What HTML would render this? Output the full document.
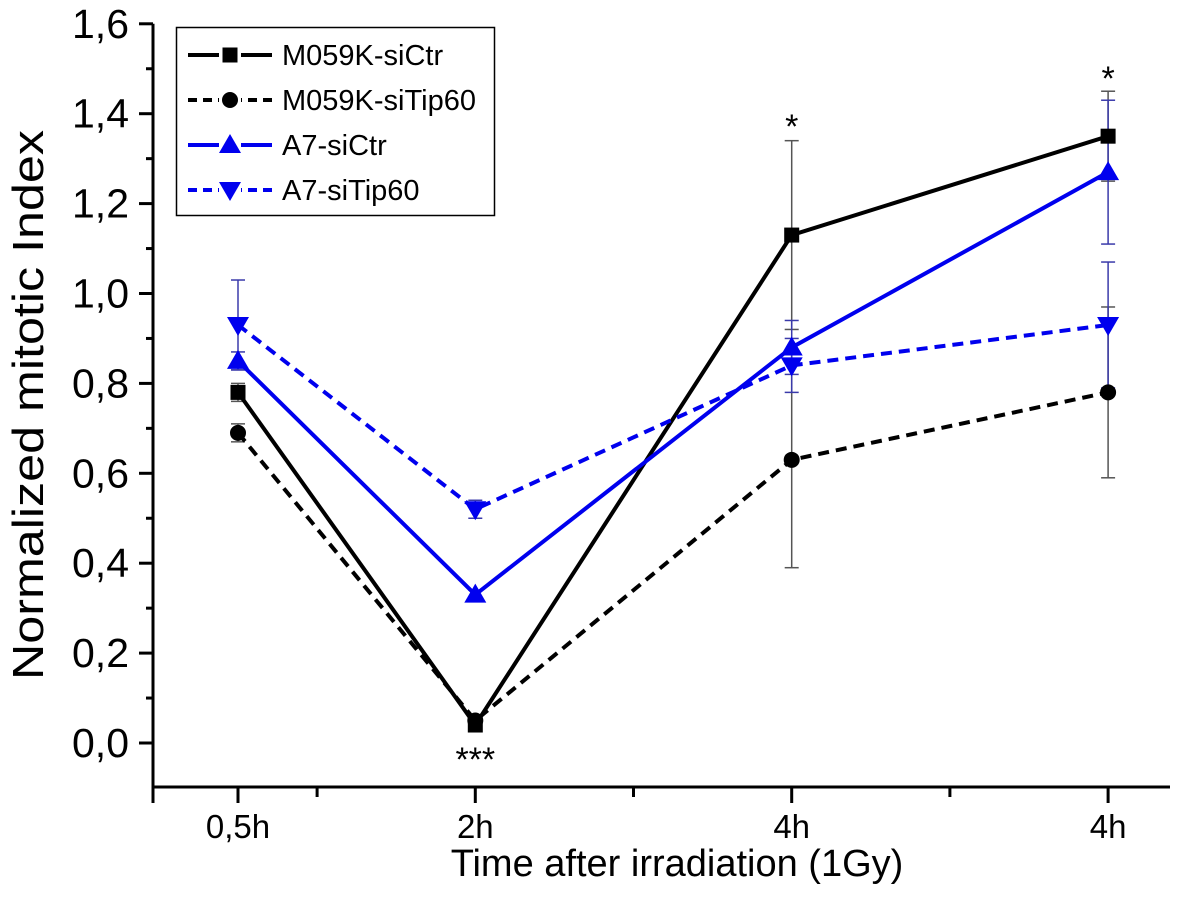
<!DOCTYPE html>
<html><head><meta charset="utf-8"><style>
html,body{margin:0;padding:0;background:#fff;}
svg{display:block;font-family:"Liberation Sans",Arial,sans-serif;}
</style></head><body>
<svg id="chart" width="1200" height="900"></svg>
<script>
const categories=[0.5,2,4,6];
const xTickLabels=["0,5h","2h","4h","4h"];
const yTicks=[0,0.2,0.4,0.6,0.8,1.0,1.2,1.4,1.6];
const yTickLabels=["0,0","0,2","0,4","0,6","0,8","1,0","1,2","1,4","1,6"];
const seriesNames=["M059K-siCtr","M059K-siTip60","A7-siCtr","A7-siTip60"];
const m059kCtr=[0.78,0.04,1.13,1.35];
const m059kCtrErr=[0.02,0.01,0.21,0.10];
const m059kTip=[0.69,0.05,0.63,0.78];
const m059kTipErr=[0.02,0.01,0.24,0.19];
const a7Ctr=[0.85,0.33,0.88,1.27];
const a7CtrErr=[0.02,0.01,0.06,0.16];
const a7Tip=[0.93,0.52,0.84,0.93];
const a7TipErr=[0.10,0.02,0.06,0.14];

const NS="http://www.w3.org/2000/svg";
const svg=document.getElementById('chart');
const X=v=>238+(v-0.5)*158.2;
const Y=v=>743-v*449.5;
function mk(tag,attrs,parent){const e=document.createElementNS(NS,tag);for(const k in attrs)e.setAttribute(k,attrs[k]);(parent||svg).appendChild(e);return e;}

let ax=mk('line',{x1:153,y1:Y(1.6),x2:153,y2:788,stroke:'#000','stroke-width':3});


ax=mk('line',{x1:152,y1:787,x2:1170,y2:787,stroke:'#000','stroke-width':3});


mk('line',{x1:153,y1:787,x2:153,y2:803,stroke:'#000','stroke-width':3});

yTicks.forEach((v,i)=>{
  mk('line',{x1:139,y1:Y(v),x2:153,y2:Y(v),stroke:'#000','stroke-width':3});
  if(i<yTicks.length-1) mk('line',{x1:146,y1:Y(v+0.1),x2:153,y2:Y(v+0.1),stroke:'#000','stroke-width':3});
  const t=mk('text',{x:129,y:Y(v)+14,'text-anchor':'end','font-size':41,fill:'#000'});
  t.textContent=yTickLabels[i];
  
  
});
[1,3,5].forEach(v=>mk('line',{x1:X(v),y1:787,x2:X(v),y2:797,stroke:'#000','stroke-width':3}));
categories.forEach((c,i)=>{
  mk('line',{x1:X(c),y1:787,x2:X(c),y2:803,stroke:'#000','stroke-width':3});
  const t=mk('text',{x:X(c),y:838,'text-anchor':'middle','font-size':33,fill:'#000'});
  t.textContent=xTickLabels[i];
  
  
});
let t=mk('text',{x:677,y:876,'text-anchor':'middle','font-size':38,fill:'#000'});
t.textContent="Time after irradiation (1Gy)";


t=mk('text',{x:0,y:0,'text-anchor':'middle','font-size':44,fill:'#000',transform:'translate(43,405) rotate(-90)',textLength:550,lengthAdjust:'spacingAndGlyphs'});
t.textContent="Normalized mitotic Index";



const series=[
 {v:m059kCtr,e:m059kCtrErr,c:'#000',d:null,m:'square',ec:'#555'},
 {v:m059kTip,e:m059kTipErr,c:'#000',d:'11 7',m:'circle',ec:'#555'},
 {v:a7Ctr,e:a7CtrErr,c:'#0000ee',d:null,m:'up',ec:'#3a3aaa'},
 {v:a7Tip,e:a7TipErr,c:'#0000ee',d:'11 7',m:'down',ec:'#3a3aaa'}
];
function marker(type,x,y,c,g){
  if(type==='square') return mk('rect',{x:x-7.5,y:y-7.5,width:15,height:15,fill:c},g);
  if(type==='circle') return mk('circle',{cx:x,cy:y,r:8,fill:c},g);
  if(type==='up') return mk('polygon',{points:`${x},${y-11} ${x-11},${y+8} ${x+11},${y+8}`,fill:c},g);
  return mk('polygon',{points:`${x},${y+11} ${x-11},${y-8} ${x+11},${y-8}`,fill:c},g);
}
series.forEach((s,si)=>{
  const g=mk('g',{});
  
  
  categories.forEach((c,i)=>{
    const x=X(c),y1=Y(s.v[i]+s.e[i]),y2=Y(s.v[i]-s.e[i]);
    mk('line',{x1:x,y1:y1,x2:x,y2:y2,stroke:s.ec,'stroke-width':1.5},g);
    mk('line',{x1:x-7,y1:y1,x2:x+7,y2:y1,stroke:s.ec,'stroke-width':1.5},g);
    mk('line',{x1:x-7,y1:y2,x2:x+7,y2:y2,stroke:s.ec,'stroke-width':1.5},g);
  });
});
series.forEach((s,si)=>{
  const g=mk('g',{});
  
  
  const p=mk('polyline',{points:categories.map((c,i)=>X(c)+','+Y(s.v[i])).join(' '),fill:'none',stroke:s.c,'stroke-width':4},g);
  if(s.d)p.setAttribute('stroke-dasharray',s.d);
  categories.forEach((c,i)=>{
    const m=marker(s.m,X(c),Y(s.v[i]),s.c,g);
    
    
  });
});
[[4,125,'*'],[6,77,'*'],[2,758,'***']].forEach(a=>{
  const s=mk('text',{x:X(a[0]),y:a[1]+13,'text-anchor':'middle','font-size':34,fill:'#000'});
  s.textContent=a[2];
  
  
});
const lg=mk('g',{});


mk('rect',{x:176.5,y:27.5,width:318,height:188,fill:'#fff',stroke:'#000','stroke-width':1.5},lg);
series.forEach((s,i)=>{
  const y=55+i*45;
  const e=mk('g',{},lg);
  
  
  const l=mk('line',{x1:188,y1:y,x2:272,y2:y,stroke:s.c,'stroke-width':4},e);
  if(s.d)l.setAttribute('stroke-dasharray','9 6');
  mk('rect',{x:219,y:y-11,width:22,height:22,fill:'#fff'},e);
  marker(s.m,230,y,s.c,e);
  const tt=mk('text',{x:282,y:y+10,'font-size':29,fill:'#000'},e);
  tt.textContent=seriesNames[i];
});
</script>
</body></html>
